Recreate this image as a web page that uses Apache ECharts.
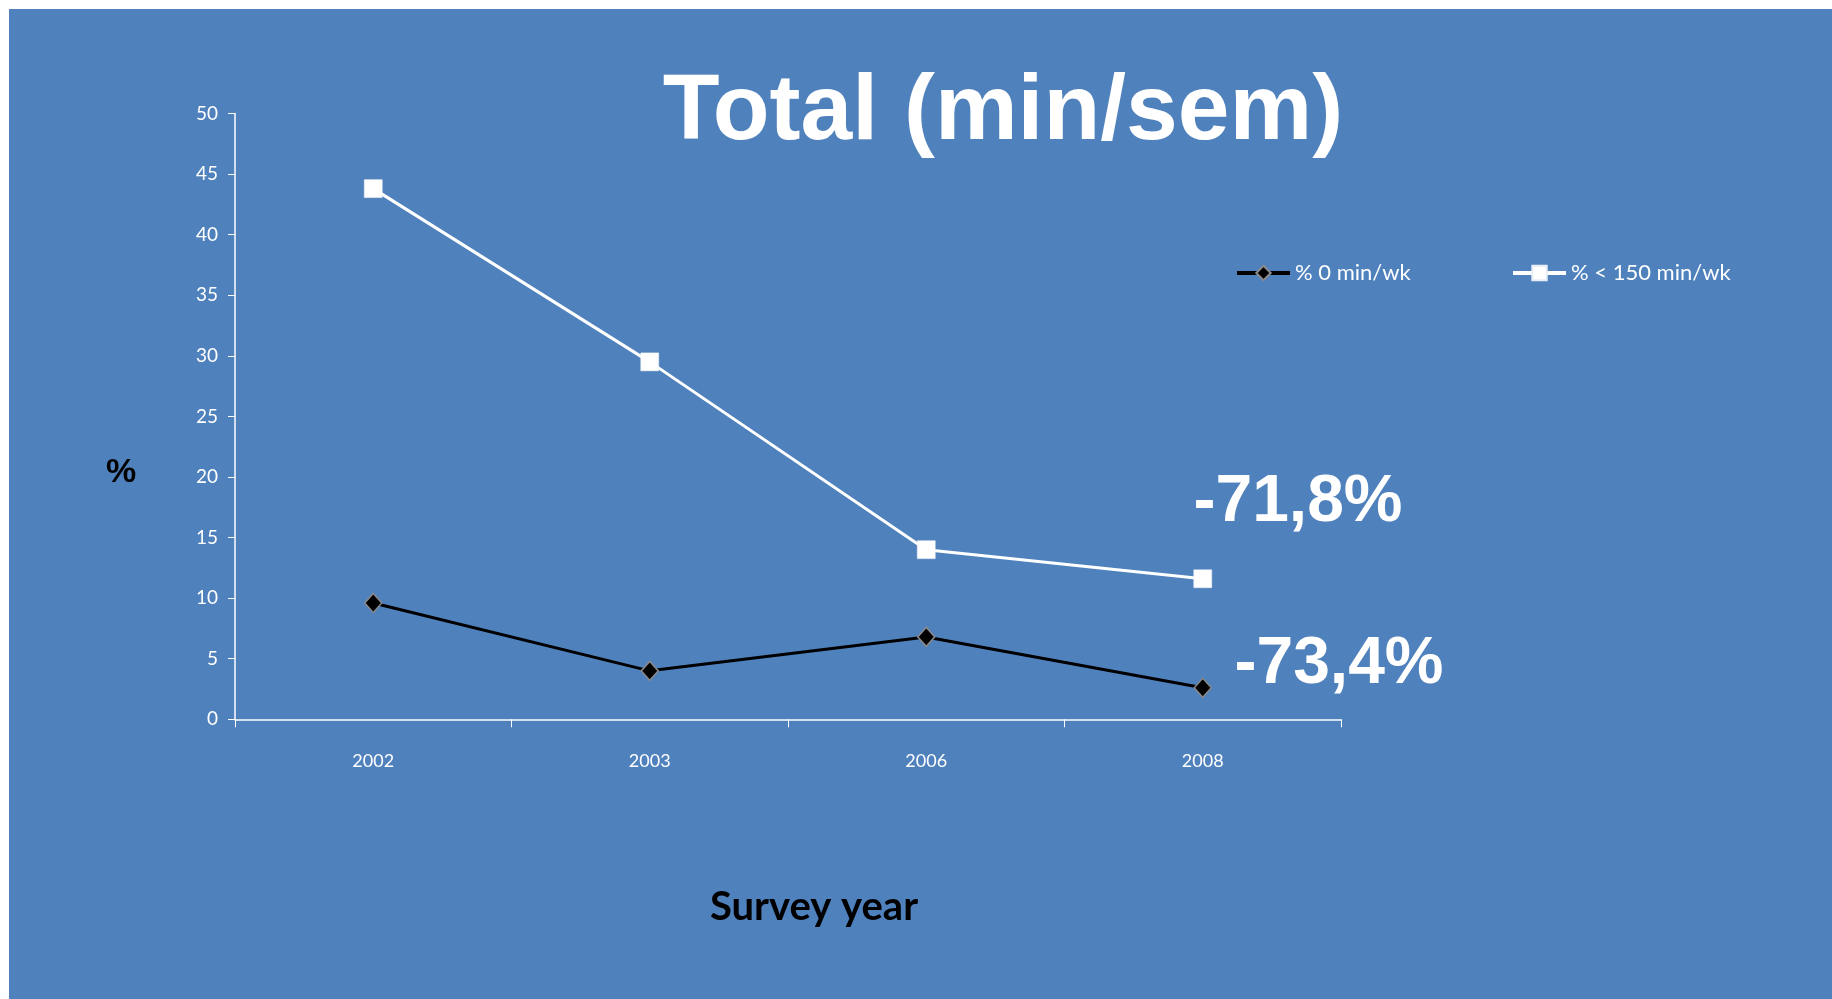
<!DOCTYPE html>
<html>
<head>
<meta charset="utf-8">
<title>Total (min/sem)</title>
<script src="https://cdn.jsdelivr.net/npm/echarts@6/dist/echarts.min.js"></script>
<style>
  html, body { margin: 0; padding: 0; background: #ffffff; }
  #chart { width: 1832px; height: 999px; }
</style>
</head>
<body>
<div id="chart"></div>
<script>
// Survey years on the category axis
const years = ['2002', '2003', '2006', '2008'];
// Share of respondents with no weekly activity (%)
const zeroMinutes = [9.6, 4.0, 6.8, 2.6];
// Share of respondents under 150 minutes per week (%)
const under150 = [43.8, 29.5, 14.0, 11.6];
// Series names shown in the legend
const seriesNames = ['% 0 min/wk', '% < 150 min/wk'];
// Change between first and last survey, written beside each line
const changeLabels = ['-71,8%', '-73,4%'];

const BLUE = '#4F81BD';
const labelFont = 'Lato, "Open Sans", sans-serif';
const boldFont = '"Liberation Sans", Arial, sans-serif';

const chart = echarts.init(document.getElementById('chart'), null, { renderer: 'canvas' });

chart.setOption({
  backgroundColor: '#ffffff',
  animation: false,
  graphic: [
    { type: 'rect', z: -10, silent: true, shape: { x: 9, y: 9, width: 1823, height: 990 }, style: { fill: BLUE } },
    { type: 'text', x: 1003, y: 113, style: { text: 'Total (min/sem)', fill: '#ffffff', font: 'bold 93px ' + boldFont, align: 'center', verticalAlign: 'middle' } },
    { type: 'text', x: 121, y: 473, style: { text: '%', fill: '#000000', font: 'bold 34px ' + boldFont, align: 'center', verticalAlign: 'middle' } },
    { type: 'text', x: 814, y: 907, style: { text: 'Survey year', fill: '#000000', font: 'bold 40px ' + labelFont, align: 'center', verticalAlign: 'middle' } },
    { type: 'text', x: 1298, y: 503, style: { text: changeLabels[0], fill: '#ffffff', font: 'bold 66px ' + boldFont, align: 'center', verticalAlign: 'middle' } },
    { type: 'text', x: 1339, y: 665, style: { text: changeLabels[1], fill: '#ffffff', font: 'bold 66px ' + boldFont, align: 'center', verticalAlign: 'middle' } }
  ],
  legend: [
    {
      data: [seriesNames[0]],
      left: 1235, top: 262, padding: 0,
      itemWidth: 53, itemHeight: 18,
      lineStyle: { width: 4 },
      textStyle: { color: '#ffffff', fontSize: 22, fontFamily: labelFont }
    },
    {
      data: [seriesNames[1]],
      left: 1511, top: 262, padding: 0,
      itemWidth: 53, itemHeight: 18,
      lineStyle: { width: 4 },
      textStyle: { color: '#ffffff', fontSize: 22, fontFamily: labelFont }
    }
  ],
  grid: { left: 235, top: 113.5, right: 491, bottom: 279.7, containLabel: false },
  xAxis: {
    type: 'category',
    data: years,
    boundaryGap: true,
    axisLine: { lineStyle: { color: '#ffffff', width: 1.5 } },
    axisTick: { show: true, length: 8, lineStyle: { color: '#ffffff', width: 1 } },
    axisLabel: { color: '#ffffff', fontSize: 18, fontFamily: labelFont, margin: 33 }
  },
  yAxis: {
    type: 'value',
    min: 0, max: 50, interval: 5,
    axisLine: { show: true, lineStyle: { color: '#ffffff', width: 1.5 } },
    axisTick: { show: true, length: 7, lineStyle: { color: '#ffffff', width: 1 } },
    splitLine: { show: false },
    axisLabel: { color: '#ffffff', fontSize: 19, fontFamily: labelFont, margin: 17 }
  },
  series: [
    {
      name: seriesNames[0],
      type: 'line',
      data: zeroMinutes,
      symbol: 'diamond',
      symbolSize: [17, 19],
      lineStyle: { color: '#000000', width: 3 },
      itemStyle: { color: '#000000', borderColor: '#8a8a8a', borderWidth: 1.5 },
      z: 3
    },
    {
      name: seriesNames[1],
      type: 'line',
      data: under150,
      symbol: 'rect',
      symbolSize: 18,
      lineStyle: { color: '#ffffff', width: 3 },
      itemStyle: { color: '#ffffff', borderColor: '#e8eef7', borderWidth: 0.5 },
      z: 3
    }
  ]
});
</script>
</body>
</html>
